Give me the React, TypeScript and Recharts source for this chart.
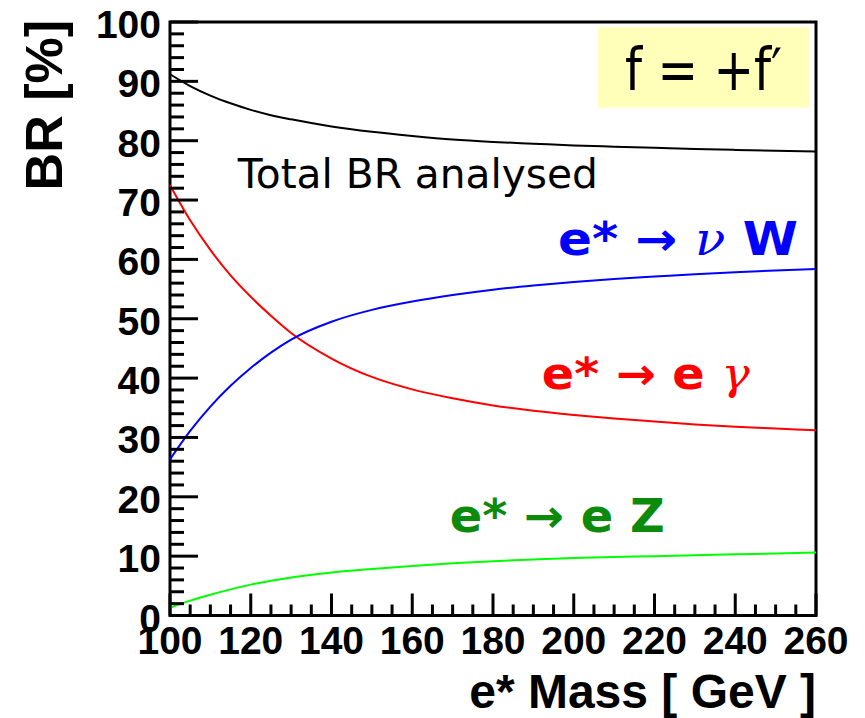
import React from "react";
import {
  LineChart,
  Line,
  XAxis,
  YAxis,
  ReferenceArea,
  ReferenceDot,
} from "recharts";

// e* mass [GeV]
const masses = [100, 105, 110, 115, 120, 125, 130, 140, 150, 160, 170, 180, 190, 200, 210, 220, 230, 240, 250, 260];
// Total BR analysed [%]
const totalBR = [91.2, 89.2, 87.6, 86.3, 85.2, 84.3, 83.6, 82.4, 81.5, 80.8, 80.2, 79.8, 79.5, 79.2, 79.0, 78.8, 78.6, 78.45, 78.3, 78.2];
// e* -> nu W [%]
const nuW = [26.3, 31.1, 35.2, 38.7, 41.7, 44.3, 46.5, 49.5, 51.5, 52.9, 54.0, 54.9, 55.6, 56.2, 56.7, 57.1, 57.5, 57.85, 58.15, 58.4];
// e* -> e gamma [%]
const eGamma = [72.5, 66.6, 61.6, 57.3, 53.7, 50.5, 47.6, 43.3, 40.2, 38.1, 36.6, 35.4, 34.5, 33.8, 33.2, 32.7, 32.2, 31.8, 31.5, 31.2];
// e* -> e Z [%]
const eZ = [1.3, 2.5, 3.5, 4.4, 5.2, 5.85, 6.4, 7.25, 7.85, 8.35, 8.8, 9.15, 9.45, 9.7, 9.85, 10.0, 10.15, 10.3, 10.45, 10.6];

const xTicks = [100, 105, 110, 115, 120, 125, 130, 135, 140, 145, 150, 155, 160, 165, 170, 175, 180, 185, 190, 195, 200, 205, 210, 215, 220, 225, 230, 235, 240, 245, 250, 255, 260];
const yTicks = [0, 2, 4, 6, 8, 10, 12, 14, 16, 18, 20, 22, 24, 26, 28, 30, 32, 34, 36, 38, 40, 42, 44, 46, 48, 50, 52, 54, 56, 58, 60, 62, 64, 66, 68, 70, 72, 74, 76, 78, 80, 82, 84, 86, 88, 90, 92, 94, 96, 98, 100];

const data = masses.map((m, i) => ({
  m,
  total: totalBR[i],
  nuW: nuW[i],
  eGamma: eGamma[i],
  eZ: eZ[i],
}));

const AXIS_FONT = "'Liberation Sans', Arial, Helvetica, sans-serif";
const HAND_FONT = "'DejaVu Sans', 'Noto Sans', sans-serif";
const SYM_FONT = "'DejaVu Serif', 'Liberation Serif', serif";

const YTick = (props: any) => {
  const { x, y, payload } = props;
  const v = payload.value;
  const major = v % 10 === 0;
  return (
    <g>
      <line x1={x} x2={x + (major ? 28 : 14)} y1={y} y2={y} stroke="#000" strokeWidth={3} />
      {major && (
        <text x={x - 9} y={y + 16} textAnchor="end" fontSize={39} fontWeight="bold" fontFamily={AXIS_FONT} fill="#000">
          {v}
        </text>
      )}
    </g>
  );
};

const XTick = (props: any) => {
  const { x, y, payload } = props;
  const v = payload.value;
  const major = v % 20 === 0;
  return (
    <g>
      <line x1={x} x2={x} y1={y} y2={y - (major ? 22 : 11)} stroke="#000" strokeWidth={3} />
      {major && (
        <text x={x} y={y + 38} textAnchor="middle" fontSize={39} fontWeight="bold" fontFamily={AXIS_FONT} fill="#000">
          {v}
        </text>
      )}
    </g>
  );
};

const XTitle = (props: any) => {
  const vb = props.viewBox;
  return (
    <text x={vb.x + vb.width} y={vb.y + 92} textAnchor="end" fontSize={48} fontWeight="bold" fontFamily={AXIS_FONT} fill="#000">
      e* Mass [ GeV ]
    </text>
  );
};

const YTitle = (props: any) => {
  const x = 62;
  const y = 20;
  return (
    <text x={x} y={y} transform={`rotate(-90, ${x}, ${y})`} textAnchor="end" fontSize={52} fontWeight="bold" fontFamily={AXIS_FONT} fill="#000">
      BR [%]
    </text>
  );
};

const at = (render: (x: number, y: number) => React.ReactElement) => (props: any) => {
  const vb = props.viewBox;
  return render(vb.x + (vb.width || 0) / 2, vb.y + (vb.height || 0) / 2);
};

export default function App() {
  return (
    <div style={{ position: "absolute", left: 0, top: 0, width: 865, height: 718, background: "#fff" }}>
      <LineChart width={865} height={718} data={data} margin={{ top: 22, right: 49, bottom: 0, left: 0 }}>
        <ReferenceArea
          x1={206}
          x2={258.3}
          y1={85.6}
          y2={99.1}
          fill="#ffffb9"
          fillOpacity={1}
          stroke="none"
          label={at((x, y) => (
            <text x={x} y={y + 23} textAnchor="middle" fontSize={58} fontFamily={HAND_FONT} fill="#000" textLength={157} lengthAdjust="spacingAndGlyphs">
              f = +f′
            </text>
          ))}
        />
        <XAxis
          dataKey="m"
          type="number"
          domain={[100, 260]}
          ticks={xTicks}
          interval={0}
          height={102.5}
          tickSize={0}
          tickMargin={0}
          tickLine={false}
          axisLine={false}
          tick={<XTick />}
          label={<XTitle />}
        />
        <YAxis
          type="number"
          domain={[0, 100]}
          ticks={yTicks}
          interval={0}
          width={170}
          tickSize={0}
          tickMargin={0}
          tickLine={false}
          axisLine={false}
          tick={<YTick />}
          label={<YTitle />}
        />
        <Line type="monotone" dataKey="total" stroke="#000000" strokeWidth={2} dot={false} isAnimationActive={false} />
        <Line type="monotone" dataKey="eGamma" stroke="#ff0000" strokeWidth={2} dot={false} isAnimationActive={false} />
        <Line type="monotone" dataKey="nuW" stroke="#0000ff" strokeWidth={2} dot={false} isAnimationActive={false} />
        <Line type="monotone" dataKey="eZ" stroke="#00ff00" strokeWidth={2} dot={false} isAnimationActive={false} />
        <ReferenceArea x1={100} x2={260} y1={0} y2={100} fill="none" stroke="#000" strokeWidth={3} ifOverflow="visible" />
        <ReferenceDot
          x={116.8}
          y={72.1}
          r={0}
          label={at((x, y) => (
            <text x={x} y={y} textAnchor="start" fontSize={40} fontFamily={HAND_FONT} fill="#000" textLength={360} lengthAdjust="spacingAndGlyphs">
              Total BR  analysed
            </text>
          ))}
        />
        <ReferenceDot
          x={196.1}
          y={60.7}
          r={0}
          label={at((x, y) => (
            <text x={x} y={y} textAnchor="start" fontSize={46} fontWeight="bold" fontFamily={HAND_FONT} fill="#0000ff" textLength={240} lengthAdjust="spacingAndGlyphs">
              e* → <tspan fontFamily={SYM_FONT} fontStyle="italic" fontWeight="normal">ν</tspan> W
            </text>
          ))}
        />
        <ReferenceDot
          x={192.1}
          y={38.1}
          r={0}
          label={at((x, y) => (
            <text x={x} y={y} textAnchor="start" fontSize={44} fontWeight="bold" fontFamily={HAND_FONT} fill="#ff0000" textLength={208} lengthAdjust="spacingAndGlyphs">
              e* → e <tspan fontFamily={SYM_FONT} fontStyle="italic" fontWeight="normal">γ</tspan>
            </text>
          ))}
        />
        <ReferenceDot
          x={169.3}
          y={14.1}
          r={0}
          label={at((x, y) => (
            <text x={x} y={y} textAnchor="start" fontSize={46} fontWeight="bold" fontFamily={HAND_FONT} fill="#0b8a0b" textLength={215} lengthAdjust="spacingAndGlyphs">
              e* → e Z
            </text>
          ))}
        />
      </LineChart>
    </div>
  );
}
